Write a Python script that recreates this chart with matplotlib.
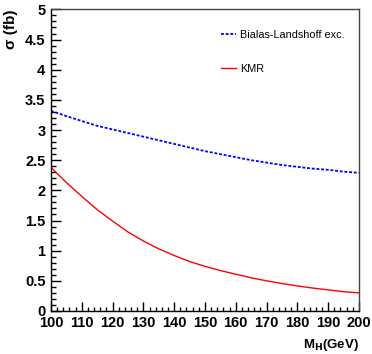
import matplotlib
matplotlib.use("Agg")
import matplotlib.pyplot as plt
from matplotlib.ticker import MultipleLocator, FuncFormatter

plt.rcParams["font.family"] = ["Liberation Sans", "DejaVu Sans"]

# Higgs mass (GeV)
mass = [100, 105, 110, 115, 120, 125, 130, 135, 140, 145, 150,
        155, 160, 165, 170, 175, 180, 185, 190, 195, 200]
# Bialas-Landshoff exclusive cross section (fb)
sigma_bl = [3.32, 3.23, 3.15, 3.07, 3.01, 2.95, 2.89, 2.83, 2.77, 2.71, 2.65,
            2.60, 2.55, 2.50, 2.46, 2.42, 2.39, 2.36, 2.34, 2.31, 2.29]
# KMR cross section (fb)
sigma_kmr = [2.38, 2.13, 1.90, 1.68, 1.49, 1.31, 1.16, 1.03, 0.92, 0.82, 0.74,
             0.67, 0.61, 0.55, 0.50, 0.455, 0.415, 0.38, 0.35, 0.32, 0.30]

fig = plt.figure(figsize=(3.72, 3.54), dpi=100)
ax = fig.add_axes([0.137, 0.1215, 0.828, 0.852])

ax.plot(mass, sigma_bl, color="#0000ff", lw=1.3, linestyle=(0, (1.6, 1.0)),
        label="Bialas-Landshoff exc.")
ax.plot(mass, sigma_kmr, color="#ff0000", lw=1.0, label="KMR")

ax.set_xlim(100, 200)
ax.set_ylim(0, 5)
ax.xaxis.set_major_locator(MultipleLocator(10))
ax.xaxis.set_minor_locator(MultipleLocator(2))
ax.yaxis.set_major_locator(MultipleLocator(0.5))
ax.yaxis.set_minor_locator(MultipleLocator(0.1))
ax.yaxis.set_major_formatter(FuncFormatter(lambda v, p: f"{v:g}"))

ax.tick_params(which="both", direction="in", top=False, right=False,
               width=1.0, labelsize=10.5)
ax.tick_params(axis="y", which="major", length=7, pad=4)
ax.tick_params(axis="y", which="minor", length=3.6)
ax.tick_params(axis="x", which="major", length=6.5, pad=3.5)
ax.tick_params(axis="x", which="minor", length=3)
for lab in ax.get_xticklabels() + ax.get_yticklabels():
    lab.set_fontweight("bold")

for s in ax.spines.values():
    s.set_linewidth(1.0)
ax.spines["top"].set_color("#444444")
ax.spines["right"].set_color("#444444")

ax.set_xlabel("M$_\\mathbf{H}$(GeV)", fontsize=9.5, fontweight="bold",
              loc="right", labelpad=5)
ax.set_ylabel("σ (fb)", fontsize=11, fontweight="bold", loc="top", labelpad=5)

ax.legend(loc="upper left", bbox_to_anchor=(0.522, 0.965), frameon=False,
          fontsize=7.8, handlelength=1.3, handletextpad=0.45, labelspacing=2.2)

fig.savefig("out.png", dpi=100)
